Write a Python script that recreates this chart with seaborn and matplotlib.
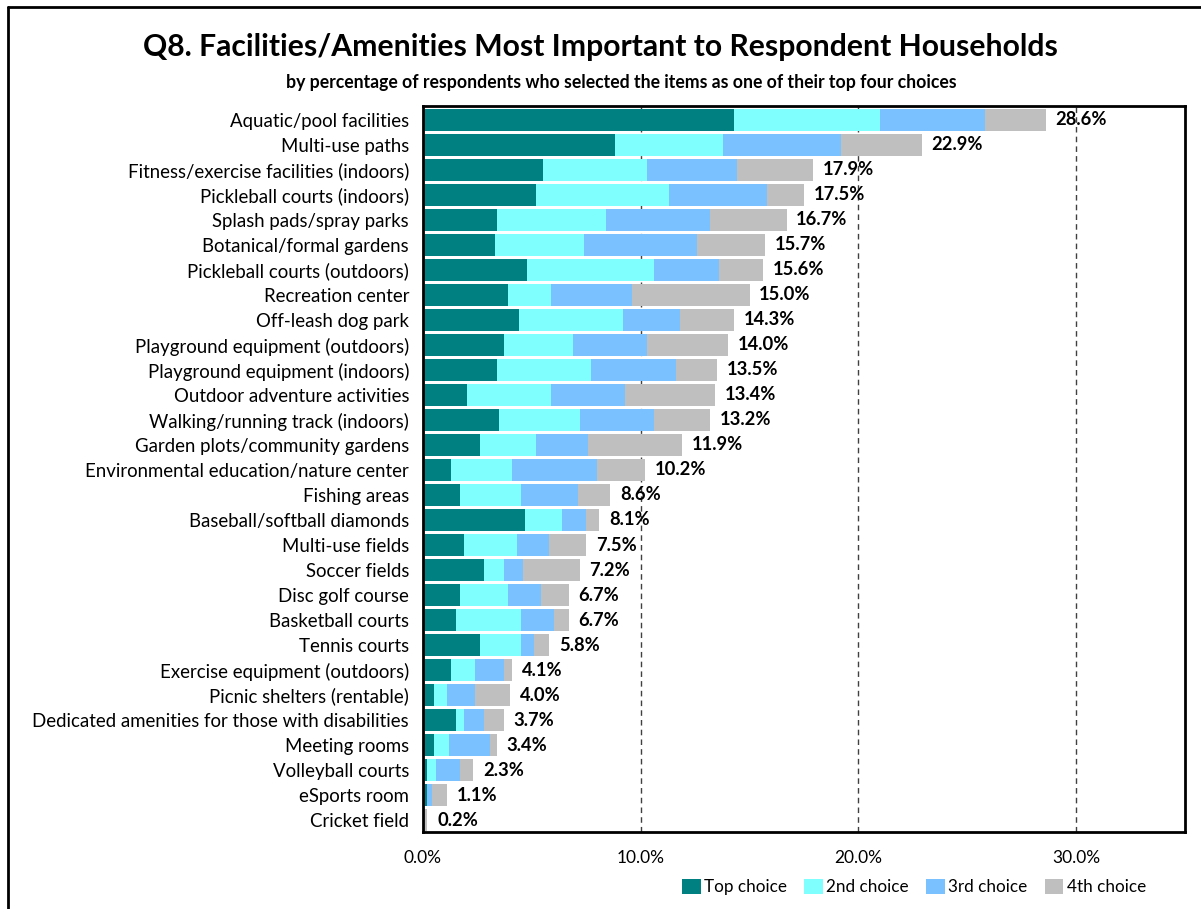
import numpy as np
import pandas as pd
import matplotlib
matplotlib.use("Agg")
import matplotlib.pyplot as plt
from matplotlib.patches import Patch
from matplotlib.lines import Line2D
import seaborn as sns

# data (percent of respondents)
categories = [
    "Aquatic/pool facilities", "Multi-use paths", "Fitness/exercise facilities (indoors)",
    "Pickleball courts (indoors)", "Splash pads/spray parks", "Botanical/formal gardens",
    "Pickleball courts (outdoors)", "Recreation center", "Off-leash dog park",
    "Playground equipment (outdoors)", "Playground equipment (indoors)",
    "Outdoor adventure activities", "Walking/running track (indoors)",
    "Garden plots/community gardens", "Environmental education/nature center",
    "Fishing areas", "Baseball/softball diamonds", "Multi-use fields", "Soccer fields",
    "Disc golf course", "Basketball courts", "Tennis courts",
    "Exercise equipment (outdoors)", "Picnic shelters (rentable)",
    "Dedicated amenities for those with disabilities", "Meeting rooms",
    "Volleyball courts", "eSports room", "Cricket field",
]
top_choice = [14.3, 8.8, 5.5, 5.2, 3.4, 3.3, 4.8, 3.9, 4.4, 3.7, 3.4, 2.0, 3.5, 2.6, 1.3,
              1.7, 4.7, 1.9, 2.8, 1.7, 1.5, 2.6, 1.3, 0.5, 1.5, 0.5, 0.2, 0.2, 0.0]
second_choice = [6.7, 5.0, 4.8, 6.1, 5.0, 4.1, 5.8, 2.0, 4.8, 3.2, 4.3, 3.9, 3.7, 2.6, 2.8,
                 2.8, 1.7, 2.4, 0.9, 2.2, 3.0, 1.9, 1.1, 0.6, 0.4, 0.7, 0.4, 0.0, 0.0]
third_choice = [4.8, 5.4, 4.1, 4.5, 4.8, 5.2, 3.0, 3.7, 2.6, 3.4, 3.9, 3.4, 3.4, 2.4, 3.9,
                2.6, 1.1, 1.5, 0.9, 1.5, 1.5, 0.6, 1.3, 1.3, 0.9, 1.9, 1.1, 0.2, 0.0]
fourth_choice = [2.8, 3.7, 3.5, 1.7, 3.5, 3.1, 2.0, 5.4, 2.5, 3.7, 1.9, 4.1, 2.6, 4.3, 2.2,
                 1.5, 0.6, 1.7, 2.6, 1.3, 0.7, 0.7, 0.4, 1.6, 0.9, 0.3, 0.6, 0.7, 0.2]
totals = [28.6, 22.9, 17.9, 17.5, 16.7, 15.7, 15.6, 15.0, 14.3, 14.0, 13.5, 13.4, 13.2, 11.9,
          10.2, 8.6, 8.1, 7.5, 7.2, 6.7, 6.7, 5.8, 4.1, 4.0, 3.7, 3.4, 2.3, 1.1, 0.2]
series_names = ["Top choice", "2nd choice", "3rd choice", "4th choice"]
colors = ["#008080", "#80FFFF", "#79C1FF", "#BFBFBF"]

sns.set_style("white")
plt.rcParams["font.family"] = ["Lato", "DejaVu Sans"]
plt.rcParams["text.color"] = "black"

df = pd.DataFrame({
    "category": categories,
    "Top choice": top_choice,
    "2nd choice": second_choice,
    "3rd choice": third_choice,
    "4th choice": fourth_choice,
})
cum = df[series_names].cumsum(axis=1)

fig = plt.figure(figsize=(12.01, 9.09), dpi=100)
ax = fig.add_axes([0.3522, 0.0847, 0.6345, 0.7987])

# stacked bars: draw cumulative widths from the longest down
for name, col in zip(series_names[::-1], colors[::-1]):
    sns.barplot(x=cum[name], y=df["category"], color=col, orient="h",
                width=0.88, ax=ax, saturation=1, linewidth=0)

for i, t in enumerate(totals):
    ax.annotate(f"{t:.1f}%", xy=(t, i), xytext=(7, 0), textcoords="offset points",
                va="center", ha="left", fontsize=13.2, fontweight="bold", color="black")

ax.set_xlim(0, 35)
ax.set_ylim(len(categories) - 0.52, -0.56)
ax.set_xticks([0, 10, 20, 30])
ax.set_xticklabels(["0.0%", "10.0%", "20.0%", "30.0%"])
ax.set_xlabel("")
ax.set_ylabel("")
ax.tick_params(axis="both", length=0, labelsize=12.5, colors="black")
ax.tick_params(axis="y", labelsize=13.4, pad=10)
ax.tick_params(axis="x", pad=13)
ax.grid(axis="x", linestyle=(0, (4, 3)), color="#404040", linewidth=1)
for g in ax.get_xgridlines():
    g.set_zorder(0.5)
for s in ax.spines.values():
    s.set_visible(True)
    s.set_color("black")
    s.set_linewidth(2)

fig.text(0.5, 0.948, "Q8. Facilities/Amenities Most Important to Respondent Households",
         ha="center", va="center", fontsize=21.7, fontweight="bold")
fig.text(0.517, 0.9087,
         "by percentage of respondents who selected the items as one of their top four choices",
         ha="center", va="center", fontsize=12.7, fontweight="bold")

handles = [Patch(facecolor=c, edgecolor="none") for c in colors]
fig.legend(handles, series_names, loc="center", bbox_to_anchor=(0.761, 0.024), ncol=4,
           frameon=False, fontsize=12.3, handlelength=1.1, handleheight=1.0,
           handletextpad=0.2, columnspacing=1.0)

# outer frame (left and top edges)
fig.add_artist(Line2D([8 / 1201, 8 / 1201], [0, 1 - 7 / 909], transform=fig.transFigure,
                      color="black", linewidth=2))
fig.add_artist(Line2D([8 / 1201, 1], [1 - 7 / 909, 1 - 7 / 909], transform=fig.transFigure,
                      color="black", linewidth=2))

fig.savefig("out.png", dpi=100)
